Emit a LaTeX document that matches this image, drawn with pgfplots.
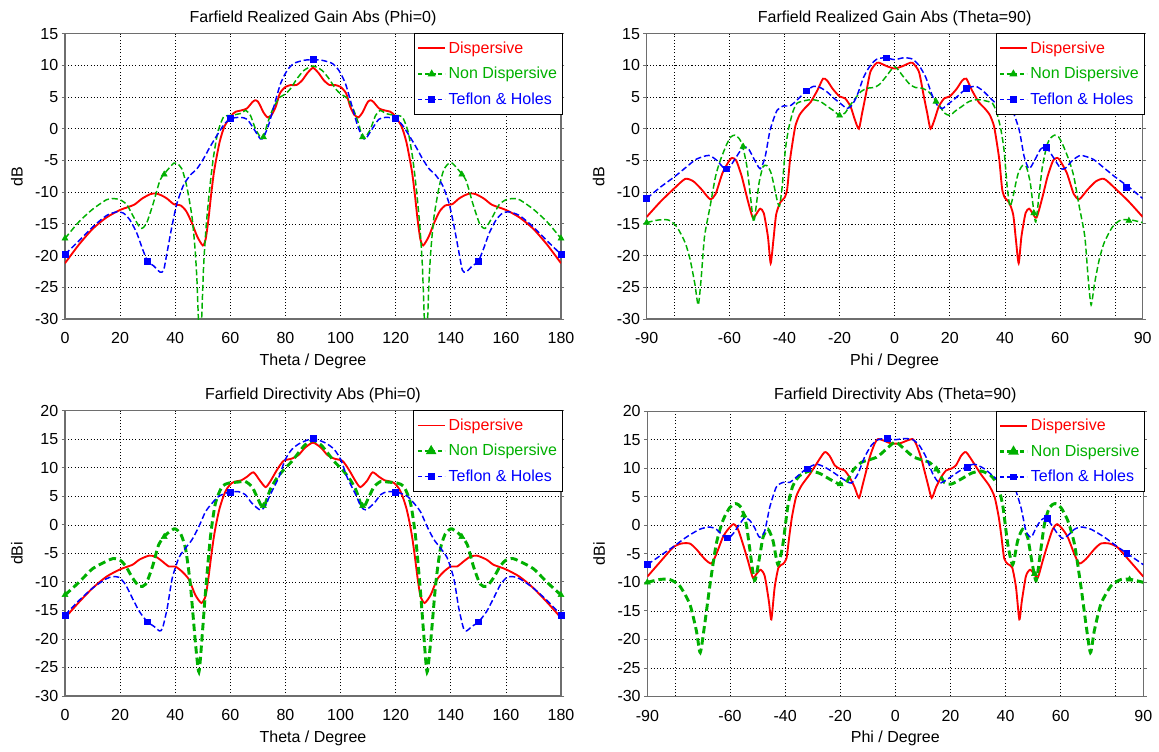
\documentclass[border=0pt]{standalone}
\usepackage{fontspec}
\setmainfont{Liberation Sans}
\usepackage{pgfplots}
\pgfplotsset{compat=1.18}
\definecolor{cred}{RGB}{255,0,0}
\definecolor{cgreen}{RGB}{0,176,0}
\definecolor{cblue}{RGB}{0,0,255}
\definecolor{axgray}{RGB}{110,110,110}
\newcommand{\ff}{\fontsize{12pt}{14pt}\selectfont}
\pgfplotsset{
  every axis title shift=0pt,
  base/.style={
    scale only axis, width=372pt, height=214pt, anchor=south west,
    /pgf/number format/assume math mode=true,
    tick label style={font=\ff}, label style={font=\ff},
    axis line style={axgray, line width=0.8pt},
    grid=major,
    major grid style={black, line width=0.45pt, dash pattern=on 0.8pt off 1.6pt},
    tick align=outside, major tick length=2.5pt,
    tick style={axgray, line width=0.6pt},
    xtick style={draw=none},
    title style={at={(axis description cs:0.5,1)}, anchor=base, yshift=8.7pt, font=\ff},
    xlabel style={at={(axis description cs:0.5,0)}, anchor=base, yshift=-34.5pt},
    ylabel style={at={(axis description cs:-0.097,0.5)}, anchor=center},
    xticklabel style={yshift=-4pt},
    yticklabel style={xshift=1pt},
    legend style={at={(axis description cs:1.004,1.002)}, anchor=north east,
      draw=black, line width=0.8pt, fill=white, font=\ff,
      inner xsep=2pt, inner ysep=4pt, row sep=5pt, cells={anchor=west}},
    legend image code/.code={\draw[##1, mark repeat=2, mark phase=2] plot coordinates {(0pt,0pt) (10pt,0pt) (20pt,0pt)};},
  },
  thetaax/.style={base, xmin=0, xmax=180, xtick={0,20,...,180}, xlabel={Theta / Degree}},
  phiax/.style={base, xmin=-90, xmax=90, xtick={-90,-80,-60,-40,-20,0,20,40,60,80,90},
    xticklabels={-90,,-60,-40,-20,0,20,40,60,,90}, xlabel={Phi / Degree}},
  gainax/.style={ymin=-30, ymax=15, ytick={-30,-25,...,15}, ylabel={dB}},
  dirax/.style={ymin=-30, ymax=20, ytick={-30,-25,...,20}, ylabel={dBi}},
  redl/.style={cred, line width=1.4pt, smooth, tension=0.4, forget plot},
  greenl/.style={cgreen, line width=1.1pt, dash pattern=on 4.5pt off 2.2pt, smooth, tension=0.4, forget plot},
  greenthick/.style={cgreen, line width=2.2pt, dash pattern=on 5.5pt off 3pt, smooth, tension=0.4, forget plot},
  bluel/.style={cblue, line width=1.1pt, dash pattern=on 4.5pt off 2.2pt, smooth, tension=0.4, forget plot},
  trim/.style={cgreen, only marks, mark=triangle*, mark size=2.6pt, forget plot},
  sqm/.style={cblue, only marks, mark=square*, mark size=2.2pt, forget plot},
}
\newcommand{\legendset}[1]{%
  \addlegendimage{cred, line width=1.4pt}
  \addlegendentry{\textcolor{cred}{Dispersive}}
  \addlegendimage{cgreen, line width=#1, dash pattern=on 3pt off 2pt, mark=triangle*, mark size=2.4pt, mark options={solid}}
  \addlegendentry{\textcolor{cgreen}{Non Dispersive}}
  \addlegendimage{cblue, line width=1.1pt, dash pattern=on 3pt off 2pt, mark=square*, mark size=2pt, mark options={solid}}
  \addlegendentry{\textcolor{cblue}{Teflon \& Holes}}
}
\begin{document}
\begin{tikzpicture}
\path[use as bounding box] (0pt,0pt) rectangle (869.25pt,563.25pt);

% ---------- Top left ----------
\begin{axis}[thetaax, gainax, at={(48.75pt,324pt)}, title={Farfield Realized Gain Abs (Phi=0)}]
\addplot[redl] coordinates {(0,-21.2)(5,-18.3)(10,-15.8)(15,-14)(20,-12.8)(25,-12)(28,-11)(31,-10.3)(33,-10.2)(35,-10.5)(37,-11)(39.5,-11.9)(42,-12.1)(44,-13)(46,-14.8)(48,-17)(50,-18.4)(51,-17.5)(52,-14.5)(53,-10.5)(54,-7)(55,-4.5)(56,-2.3)(57,-0.7)(58,0.5)(59,1.2)(60,1.8)(61,2.4)(62,2.7)(64,2.9)(66,3.2)(68,4.2)(69,4.5)(70,4.3)(71,3.5)(72,2.6)(73.5,1.8)(75,2.2)(76.5,3.5)(78,5.6)(80,6.6)(82,6.9)(84,6.9)(86,7.6)(88,8.8)(90,9.6)
(92,8.8)(94,7.6)(96,6.9)(98,6.9)(100,6.6)(102,5.6)(103.5,3.5)(105,2.2)(106.5,1.8)(108,2.6)(109,3.5)(110,4.3)(111,4.5)(112,4.2)(114,3.2)(116,2.9)(118,2.7)(119,2.4)(120,1.8)(121,1.2)(122,0.5)(123,-0.7)(124,-2.3)(125,-4.5)(126,-7)(127,-10.5)(128,-14.5)(129,-17.5)(130,-18.4)(132,-17)(134,-14.8)(136,-13)(138,-12.1)(140.5,-11.9)(143,-11)(145,-10.5)(147,-10.2)(149,-10.3)(152,-11)(155,-12)(160,-12.8)(165,-14)(170,-15.8)(175,-18.3)(180,-21.2)};
\addplot[greenl] coordinates {(0,-17.3)(5,-14.7)(10,-12.7)(15,-11.2)(17.5,-11)(20,-11.2)(22.5,-12)(25,-14)(27.5,-15.7)(29.5,-15)(32,-11.8)(34.5,-8.1)(37,-6.6)(39.5,-5.4)(40.5,-5.4)(42.4,-6.3)(44.2,-9.1)(46.1,-13.9)(47.2,-19)(47.9,-24)(48.5,-31)(49,-33)(49.5,-31)(50.3,-21.7)(51.2,-15.5)(52.1,-11.2)(53,-7.5)(53.9,-4.4)(55,-1.5)(55.8,0)(57.6,1.9)(60,2.1)(63.6,2.4)(65.5,2.9)(67.3,2.1)(69.1,0)(70.9,-1.3)(72.1,-1.3)(73.3,0.6)(75.2,2.9)(77.6,4.8)(80,5.5)(81.8,6.3)(84.2,7.9)(86.7,9.2)(90,9.9)
(93.3,9.2)(95.8,7.9)(98.2,6.3)(100,5.5)(102.4,4.8)(104.8,2.9)(106.7,0.6)(107.9,-1.3)(109.1,-1.3)(110.9,0)(112.7,2.1)(114.5,2.9)(116.4,2.4)(120,2.1)(122.4,1.9)(124.2,0)(125,-1.5)(126.1,-4.4)(127,-7.5)(127.9,-11.2)(128.8,-15.5)(129.7,-21.7)(130.5,-31)(131,-33)(131.5,-31)(132.1,-24)(132.8,-19)(133.9,-13.9)(135.8,-9.1)(137.6,-6.3)(139.5,-5.4)(140.5,-5.4)(143,-6.6)(145.5,-8.1)(148,-11.8)(150.5,-15)(152.5,-15.7)(155,-14)(157.5,-12)(160,-11.2)(162.5,-11)(165,-11.2)(170,-12.7)(175,-14.7)(180,-17.3)};
\addplot[bluel] coordinates {(0,-19.8)(5,-17.7)(10,-15.5)(15,-13.7)(18.8,-13.1)(21.2,-13.3)(23.6,-14.4)(26.1,-16.5)(28,-18.8)(30,-20.9)(32.1,-21.6)(34.5,-22.6)(35.8,-22.3)(37,-19.6)(38.8,-15.4)(40.6,-11.8)(43,-8.9)(45.5,-7.3)(47.9,-6.3)(50.3,-4.7)(52.7,-2.8)(55.2,-1)(57.6,0.6)(60,1.6)(63.6,1.8)(66.1,1.5)(68.5,0)(70.9,-1.6)(72.1,-1.3)(73.9,0.6)(75.8,3.5)(78.2,7.1)(80.6,9.2)(83,10.3)(86.7,10.8)(90,10.9)
(93.3,10.8)(97,10.3)(99.4,9.2)(101.8,7.1)(104.2,3.5)(106.1,0.6)(107.9,-1.3)(109.1,-1.6)(111.5,0)(113.9,1.5)(116.4,1.8)(120,1.6)(122.4,0.6)(124.8,-1)(127.3,-2.8)(129.7,-4.7)(132.1,-6.3)(134.5,-7.3)(137,-8.9)(139.4,-11.8)(141.2,-15.4)(143,-19.6)(144.2,-22.3)(145.5,-22.6)(147.9,-21.6)(150,-20.9)(152,-18.8)(153.9,-16.5)(156.4,-14.4)(158.8,-13.3)(161.2,-13.1)(165,-13.7)(170,-15.5)(175,-17.7)(180,-19.8)};
\addplot[trim] coordinates {(0,-17.3)(36,-7.2)(72,-1.3)(108,-1.3)(144,-7.2)(180,-17.3)};
\addplot[sqm] coordinates {(0,-19.8)(30,-20.9)(60,1.6)(90,10.9)(120,1.6)(150,-20.9)(180,-19.8)};
\legendset{1.1pt}
\end{axis}

% ---------- Top right ----------
\begin{axis}[phiax, gainax, at={(485pt,324pt)}, title={Farfield Realized Gain Abs (Theta=90)}]
\addplot[redl] coordinates {(-90,-13.9)(-85,-11.5)(-80,-9.4)(-76,-7.9)(-73,-8.3)(-70,-9.6)(-67,-11.1)(-65,-10.3)(-62.5,-7)(-60,-5)(-59,-4.6)(-57.5,-5)(-55.5,-7.5)(-53.5,-11)(-51.5,-14)(-50,-13.3)(-48.8,-12.6)(-47.5,-13.3)(-46,-17)(-45,-21.2)(-44,-17.5)(-43,-13.5)(-41.5,-11.6)(-40,-10.9)(-39,-9.5)(-38,-5)(-37,-2)(-36,0.5)(-34.5,2.2)(-32.5,3.3)(-30.5,4.2)(-28,6.1)(-26,7.9)(-24.5,7.6)(-22.5,6.3)(-20,5.1)(-18,4.8)(-16,3.5)(-14.5,1.5)(-13,0)(-11.8,2.5)(-10.5,5.3)(-8.8,9)(-6.5,10.4)(-5,10.3)(-3,9.9)(0,9.5)
(3,9.9)(5,10.3)(6.5,10.4)(8.8,9)(10.5,5.3)(11.8,2.5)(13,0)(14.5,1.5)(16,3.5)(18,4.8)(20,5.1)(22.5,6.3)(24.5,7.6)(26,7.9)(28,6.1)(30.5,4.2)(32.5,3.3)(34.5,2.2)(36,0.5)(37,-2)(38,-5)(39,-9.5)(40,-10.9)(41.5,-11.6)(43,-13.5)(44,-17.5)(45,-21.2)(46,-17)(47.5,-13.3)(48.8,-12.6)(50,-13.3)(51.5,-14)(53.5,-11)(55.5,-7.5)(57.5,-5)(59,-4.6)(60,-5)(62.5,-7)(65,-10.3)(67,-11.1)(70,-9.6)(73,-8.3)(76,-7.9)(80,-9.4)(85,-11.5)(90,-13.9)};
\addplot[greenl] coordinates {(-90,-14.8)(-86,-14.4)(-82,-14.4)(-79,-15.5)(-76,-18)(-74.2,-20.7)(-72.5,-24.5)(-71.3,-27.8)(-70.3,-24)(-69,-17)(-67,-12.3)(-65,-7.5)(-63.3,-5)(-61,-2.5)(-59.5,-1.3)(-58,-1)(-56.5,-1.5)(-55.5,-2.3)(-54.5,-4)(-53.5,-6.3)(-52.5,-10)(-51.2,-14.7)(-50.2,-12)(-49.2,-8.5)(-47.8,-6)(-46.4,-5.8)(-45,-6.8)(-44,-8.5)(-42.8,-11)(-41.8,-12.2)(-40.8,-9)(-39.7,-3.4)(-38.5,0)(-37,2.6)(-35.5,4)(-33,4.4)(-30,4.6)(-27,4.3)(-24,3.4)(-22,2.8)(-20,2.1)(-18,2.5)(-16.5,3.5)(-14.8,4.5)(-12.4,5.8)(-10,6.4)(-7.6,6.5)(-5.5,7)(-3,8.3)(0,9.8)
(3,8.3)(5.5,7)(7.6,6.5)(10,6.4)(12.4,5.8)(14.8,4.5)(16.5,3.5)(18,2.5)(20,2.1)(22,2.8)(24,3.4)(27,4.3)(30,4.6)(33,4.4)(35.5,4)(37,2.6)(38.5,0)(39.7,-3.4)(40.8,-9)(41.8,-12.2)(42.8,-11)(44,-8.5)(45,-6.8)(46.4,-5.8)(47.8,-6)(49.2,-8.5)(50.2,-12)(51.2,-14.7)(52.5,-10)(53.5,-6.3)(54.5,-4)(55.5,-2.3)(56.5,-1.5)(58,-1)(59.5,-1.3)(61,-2.5)(63.3,-5)(65,-7.5)(67,-12.3)(69,-17)(70.3,-24)(71.3,-27.8)(72.5,-24.5)(74.2,-20.7)(76,-18)(79,-15.5)(82,-14.4)(86,-14.4)(90,-14.8)};
\addplot[bluel] coordinates {(-90,-11)(-85,-9.2)(-80,-7.6)(-75.5,-6)(-72,-4.8)(-67.5,-4.2)(-64.5,-5)(-62,-6.2)(-60.3,-6.3)(-58,-4.8)(-55,-2.9)(-53,-3.2)(-51,-4.8)(-48.8,-6.3)(-47,-4.4)(-45.2,-0.2)(-42.7,2.9)(-40.3,3.6)(-38,3.6)(-35.5,4.5)(-32,6)(-29.4,6.7)(-27,6.5)(-24.5,5.8)(-22,4.8)(-19.7,4)(-17.3,3.2)(-15.5,3.7)(-13.6,5.3)(-11.2,8.2)(-8.8,10)(-6.4,11)(-3.3,11.2)(0,10.9)
(3.3,11.2)(6.4,11)(8.8,10)(11.2,8.2)(13.6,5.3)(15.5,3.7)(17.3,3.2)(19.7,4)(22,4.8)(24.5,5.8)(27,6.5)(29.4,6.7)(32,6)(35.5,4.5)(38,3.6)(40.3,3.6)(42.7,2.9)(45.2,-0.2)(47,-4.4)(48.8,-6.3)(51,-4.8)(53,-3.2)(55,-2.9)(58,-4.8)(60.3,-6.3)(62,-6.2)(64.5,-5)(67.5,-4.2)(72,-4.8)(75.5,-6)(80,-7.6)(85,-9.2)(90,-11)};
\addplot[trim] coordinates {(-90,-14.8)(-55,-2.8)(-20,2.1)(15,4.3)(50.5,-13.3)(85,-14.5)};
\addplot[sqm] coordinates {(-90,-11)(-61,-6.3)(-32,6)(-3,11.2)(26,6.4)(55,-2.9)(84,-9.2)};
\legendset{1.1pt}
\end{axis}

% ---------- Bottom left ----------
\begin{axis}[thetaax, dirax, at={(48.75pt,41.25pt)}, title={Farfield Directivity Abs (Phi=0)}]
\addplot[redl] coordinates {(0,-16.3)(5,-13.6)(10,-11.1)(15,-9.1)(20,-7.8)(24.5,-7)(27,-6.1)(30.5,-5.4)(33,-5.6)(35.3,-6.4)(37.7,-7.3)(40,-7.3)(42.5,-8.2)(45,-9.6)(47.3,-12.3)(49.5,-13.7)(51,-12.5)(52,-9.5)(53,-5.7)(54,-2.2)(55,0.5)(56,2.7)(57,4.3)(58,5.6)(59,6.5)(60.5,7.3)(62,7.6)(64,7.8)(66,8.4)(68.4,9.2)(70.8,7.7)(72.8,6.6)(74.5,7.6)(76.9,9.6)(79.3,11.2)(82.3,11.6)(84.7,12.2)(87.1,13.5)(90,14.4)
(92.9,13.5)(95.3,12.2)(97.7,11.6)(100.7,11.2)(103.1,9.6)(105.5,7.6)(107.2,6.6)(109.6,7.7)(111.6,9.2)(114,8.4)(116,7.8)(118,7.6)(119.5,7.3)(121,6.5)(122,5.6)(123,4.3)(124,2.7)(125,0.5)(126,-2.2)(127,-5.7)(128,-9.5)(129,-12.5)(130.5,-13.7)(132.7,-12.3)(135,-9.6)(137.5,-8.2)(140,-7.3)(142.3,-7.3)(144.7,-6.4)(147,-5.6)(149.5,-5.4)(153,-6.1)(155.5,-7)(160,-7.8)(165,-9.1)(170,-11.1)(175,-13.6)(180,-16.3)};
\addplot[greenthick] coordinates {(0,-12.3)(5,-10.1)(10,-7.7)(15,-6.4)(17.5,-5.9)(20,-6.2)(22,-7.2)(24.5,-9.3)(27,-10.8)(29.3,-10.4)(31.7,-7.4)(34,-3.5)(36.5,-1.8)(38.9,-0.9)(40,-0.7)(42,-1.6)(43.8,-4.3)(45.5,-10.5)(47.3,-20.5)(48.6,-25.8)(49.8,-19.3)(51,-11.7)(52.8,-2)(54.6,3.8)(57,6.7)(59.4,7.3)(63,7.5)(65.4,7.6)(67.8,6.7)(69.6,5)(71.4,3.2)(72.6,3.6)(74.5,6.2)(76.9,8.2)(79.3,9.6)(82.3,11.1)(84.7,12.6)(87.1,14)(90,14.8)
(92.9,14)(95.3,12.6)(97.7,11.1)(100.7,9.6)(103.1,8.2)(105.5,6.2)(107.4,3.6)(108.6,3.2)(110.4,5)(112.2,6.7)(114.6,7.6)(117,7.5)(120.6,7.3)(123,6.7)(125.4,3.8)(127.2,-2)(129,-11.7)(130.2,-19.3)(131.4,-25.8)(132.7,-20.5)(134.5,-10.5)(136.2,-4.3)(138,-1.6)(140,-0.7)(141.1,-0.9)(143.5,-1.8)(146,-3.5)(148.3,-7.4)(150.7,-10.4)(153,-10.8)(155.5,-9.3)(158,-7.2)(160,-6.2)(162.5,-5.9)(165,-6.4)(170,-7.7)(175,-10.1)(180,-12.3)};
\addplot[bluel] coordinates {(0,-15.8)(5,-13.3)(10,-11.1)(14.8,-9.5)(17.2,-9.1)(19.6,-9.2)(22,-10.5)(24.5,-12.9)(27,-15.2)(29.9,-17)(32.3,-17.8)(34.3,-18.6)(35.4,-18.1)(37.1,-14.6)(38.9,-9.4)(41.3,-5.8)(43.7,-4.1)(46.1,-2.6)(48.6,-0.3)(51,2.3)(53.4,3.8)(55.8,5)(59.4,5.7)(63,5.8)(65.4,5.3)(67.8,3.8)(70.8,2.6)(72.6,3.2)(74.5,5.3)(77.5,8.2)(79.9,11.4)(82.3,13.2)(85.3,14.3)(90,15.1)
(94.7,14.3)(97.7,13.2)(100.1,11.4)(102.5,8.2)(105.5,5.3)(107.4,3.2)(109.2,2.6)(112.2,3.8)(114.6,5.3)(117,5.8)(120.6,5.7)(124.2,5)(126.6,3.8)(129,2.3)(131.4,-0.3)(133.9,-2.6)(136.3,-4.1)(138.7,-5.8)(141.1,-9.4)(142.9,-14.6)(144.6,-18.1)(145.7,-18.6)(147.7,-17.8)(150.1,-17)(153,-15.2)(155.5,-12.9)(158,-10.5)(160.4,-9.2)(162.8,-9.1)(165.2,-9.5)(170,-11.1)(175,-13.3)(180,-15.8)};
\addplot[trim] coordinates {(0,-12.3)(36,-2.1)(72,3.3)(108,3.3)(144,-2.1)(180,-12.3)};
\addplot[sqm] coordinates {(0,-15.8)(30,-17)(60,5.7)(90,15.1)(120,5.7)(150,-17)(180,-15.8)};
\legendset{2.2pt}
\end{axis}

% ---------- Bottom right ----------
\begin{axis}[phiax, dirax, at={(485.5pt,40.9pt)}, title={Farfield Directivity Abs (Theta=90)}]
\addplot[redl] coordinates {(-90,-9)(-85.5,-6.5)(-80.7,-3.9)(-77.7,-3.2)(-74.6,-3.2)(-72.2,-4.2)(-69.2,-5.9)(-66.8,-6.7)(-65,-5.1)(-62.6,-2.1)(-60.7,-0.7)(-58.7,0.2)(-57.1,-0.7)(-55.3,-3.3)(-53.5,-6.2)(-51.7,-9.2)(-50.5,-8.6)(-48.9,-7.8)(-47.4,-8.9)(-45.9,-13.3)(-45,-16.5)(-43.8,-10.9)(-42.4,-7.4)(-40.8,-6.8)(-39.5,-5.8)(-38.5,-2)(-37.5,1.5)(-36,5)(-34,7)(-31.1,8.9)(-28.7,10.7)(-25.7,12.8)(-23.9,12.2)(-22,10.5)(-20.2,9.9)(-18.4,9.6)(-16.6,8.4)(-14.8,6.7)(-13.2,4.8)(-11.8,7.2)(-9.3,11.9)(-7.5,14.3)(-6.3,15.1)(-4,14.8)(-2,14.4)(0,14.3)
(2,14.4)(4,14.8)(6.3,15.1)(7.5,14.3)(9.3,11.9)(11.8,7.2)(13.2,4.8)(14.8,6.7)(16.6,8.4)(18.4,9.6)(20.2,9.9)(22,10.5)(23.9,12.2)(25.7,12.8)(28.7,10.7)(31.1,8.9)(34,7)(36,5)(37.5,1.5)(38.5,-2)(39.5,-5.8)(40.8,-6.8)(42.4,-7.4)(43.8,-10.9)(45,-16.5)(45.9,-13.3)(47.4,-8.9)(48.9,-7.8)(50.5,-8.6)(51.7,-9.2)(53.5,-6.2)(55.3,-3.3)(57.1,-0.7)(58.7,0.2)(60.7,-0.7)(62.6,-2.1)(65,-5.1)(66.8,-6.7)(69.2,-5.9)(72.2,-4.2)(74.6,-3.2)(77.7,-3.2)(80.7,-3.9)(85.5,-6.5)(90,-9)};
\addplot[greenthick] coordinates {(-90,-10)(-85.5,-9.5)(-81.9,-9.5)(-78.3,-10.6)(-74.6,-13.8)(-72.2,-18.5)(-70.8,-22.3)(-69.2,-17.4)(-67.4,-10.9)(-65,-3.3)(-62.6,0.8)(-60.1,3.1)(-58,3.8)(-55.9,3.1)(-54.1,0.2)(-52.9,-3.9)(-51.1,-9.7)(-49.5,-6.2)(-48,-2.1)(-46.2,-0.7)(-44.4,-2.7)(-42.6,-6.9)(-40.8,-3.3)(-39,3.4)(-37.2,6.9)(-34.7,8.7)(-31.1,9.5)(-27.5,9.1)(-23.9,8.1)(-20.2,7.2)(-17.8,7.5)(-15.4,9.6)(-12.4,11)(-9.3,11.5)(-6.9,11.9)(-5,12.6)(-2.5,13.7)(0,14.6)
(2.5,13.7)(5,12.6)(6.9,11.9)(9.3,11.5)(12.4,11)(15.4,9.6)(17.8,7.5)(20.2,7.2)(23.9,8.1)(27.5,9.1)(31.1,9.5)(34.7,8.7)(37.2,6.9)(39,3.4)(40.8,-3.3)(42.6,-6.9)(44.4,-2.7)(46.2,-0.7)(48,-2.1)(49.5,-6.2)(51.1,-9.7)(52.9,-3.9)(54.1,0.2)(55.9,3.1)(58,3.8)(60.1,3.1)(62.6,0.8)(65,-3.3)(67.4,-10.9)(69.2,-17.4)(70.8,-22.3)(72.2,-18.5)(74.6,-13.8)(78.3,-10.6)(81.9,-9.5)(85.5,-9.5)(90,-10)};
\addplot[bluel] coordinates {(-90,-6.9)(-85.5,-5.4)(-80.7,-3.8)(-75.9,-2.1)(-71,-0.7)(-67.4,-0.3)(-65,-0.7)(-62.6,-1.8)(-60.7,-2.3)(-58.9,-1.5)(-56.5,0.2)(-54.7,1.3)(-52.9,0.9)(-51.1,-0.4)(-49.3,-2.1)(-47.4,-1)(-45.6,3.1)(-43.2,6.7)(-40.8,7.5)(-38.4,7.5)(-36,8.4)(-32.3,9.9)(-28.7,10.7)(-25.7,10.2)(-22.6,9.3)(-19,8.1)(-16,7.4)(-13.6,9)(-11.2,11.9)(-8.7,14)(-6.3,15)(-3.3,15.2)(0,15)
(3.3,15.2)(6.3,15)(8.7,14)(11.2,11.9)(13.6,9)(16,7.4)(19,8.1)(22.6,9.3)(25.7,10.2)(28.7,10.7)(32.3,9.9)(36,8.4)(38.4,7.5)(40.8,7.5)(43.2,6.7)(45.6,3.1)(47.4,-1)(49.3,-2.1)(51.1,-0.4)(52.9,0.9)(54.7,1.3)(56.5,0.2)(58.9,-1.5)(60.7,-2.3)(62.6,-1.8)(65,-0.7)(67.4,-0.3)(71,-0.7)(75.9,-2.1)(80.7,-3.8)(85.5,-5.4)(90,-6.9)};
\addplot[trim] coordinates {(-90,-10)(-55,1.8)(-20,7.2)(15,9.8)(50.5,-8.5)(85,-9.5)};
\addplot[sqm] coordinates {(-90,-6.9)(-61,-2.2)(-32,9.9)(-3,15.2)(26,10.2)(55,1.2)(84,-4.9)};
\legendset{2.2pt}
\end{axis}
\end{tikzpicture}
\end{document}
